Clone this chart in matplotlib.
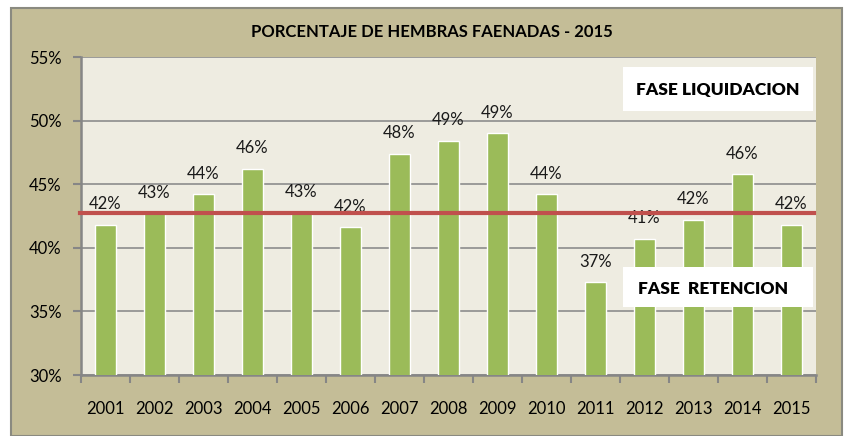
import numpy as np
import matplotlib.pyplot as plt
from matplotlib.patches import Rectangle

# datos
anios = ['2001', '2002', '2003', '2004', '2005', '2006', '2007', '2008',
         '2009', '2010', '2011', '2012', '2013', '2014', '2015']
porcentajes = [41.8, 42.7, 44.2, 46.2, 42.8, 41.6, 47.4, 48.4,
               49.0, 44.2, 37.3, 40.7, 42.2, 45.8, 41.8]
etiquetas = ['42%', '43%', '44%', '46%', '43%', '42%', '48%', '49%',
             '49%', '44%', '37%', '41%', '42%', '46%', '42%']
promedio = 42.75
y_ticks = [30, 35, 40, 45, 50, 55]

plt.rcParams['font.family'] = ['Lato', 'DejaVu Sans']

fig = plt.figure(figsize=(8.44, 4.36), dpi=100)
fig.patch.set_facecolor('white')

# fondo del grafico
fondo = Rectangle((11 / 844, 0), 831 / 844, 1 - 8 / 436, transform=fig.transFigure,
                  facecolor='#C4BD97', edgecolor='#8A8A80', linewidth=1.5, zorder=-10)
fig.patches.append(fondo)

ax = fig.add_axes([81 / 844, 1 - 375 / 436, 735 / 844, 318 / 436])
ax.set_facecolor('#EEECE1')

x = np.arange(len(anios))
ax.bar(x, porcentajes, width=0.43, color='#9BBB59', edgecolor='white',
       linewidth=1, zorder=3)

for xi, v, t in zip(x, porcentajes, etiquetas):
    ax.annotate(t, (xi, v), xytext=(0, 9), textcoords='offset points',
                ha='center', va='bottom', fontsize=12, color='#1a1a1a', zorder=4)

ax.plot([-0.52, len(anios) - 0.55], [promedio, promedio], color='#C0504D',
        linewidth=3, zorder=5, clip_on=False)

ax.set_xlim(-0.5, len(anios) - 0.5)
ax.set_ylim(30, 55)
ax.set_yticks(y_ticks)
ax.set_yticklabels([f'{t}%' for t in y_ticks], fontsize=12)
ax.yaxis.grid(True, color='#8C8C8C', linewidth=1.2, zorder=1)
ax.set_axisbelow(True)

ax.set_xticks(x)
ax.set_xticklabels(anios, fontsize=12)
ax.set_xticks(np.arange(-0.5, len(anios)), minor=True)
ax.tick_params(axis='x', which='major', length=0, pad=19)
ax.tick_params(axis='x', which='minor', length=6, width=1.5, color='#868686')
ax.tick_params(axis='y', length=6, width=1.5, color='#868686', pad=8)

for lado in ['top', 'right']:
    ax.spines[lado].set_visible(False)
for lado in ['left', 'bottom']:
    ax.spines[lado].set_color('#868686')
    ax.spines[lado].set_linewidth(1.8)

fig.text(432 / 844, 1 - 32 / 436, 'PORCENTAJE DE HEMBRAS FAENADAS - 2015',
         ha='center', va='center', fontsize=12, fontweight='bold')

# cuadros de texto
caja1 = Rectangle((623 / 844, 1 - 111 / 436), 190 / 844, 44 / 436,
                  transform=fig.transFigure, facecolor='white', edgecolor='none', zorder=6)
caja2 = Rectangle((623 / 844, 1 - 307 / 436), 190 / 844, 40 / 436,
                  transform=fig.transFigure, facecolor='white', edgecolor='none', zorder=6)
fig.patches.append(caja1)
fig.patches.append(caja2)
fig.text(718 / 844, 1 - 90 / 436, 'FASE LIQUIDACION', ha='center', va='center',
         fontsize=12.5, fontweight='heavy', zorder=7)
fig.text(638 / 844, 1 - 289 / 436, 'FASE  RETENCION', ha='left', va='center',
         fontsize=12.5, fontweight='heavy', zorder=7)

fig.savefig('out.png', dpi=100)
